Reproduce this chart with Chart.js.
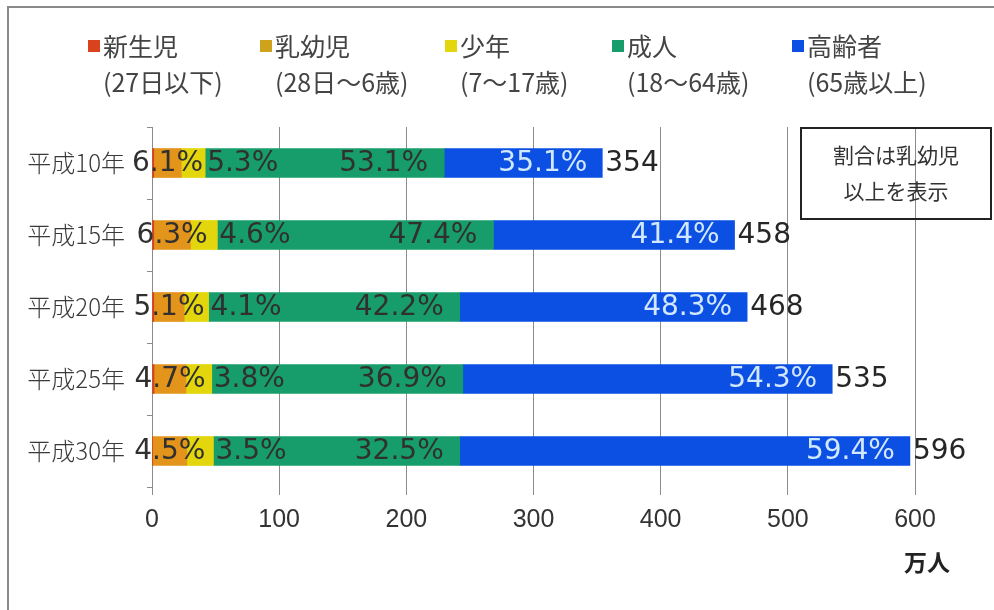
<!DOCTYPE html>
<html>
<head>
<meta charset="utf-8">
<script src="https://cdn.jsdelivr.net/npm/chart.js@4.4.0/dist/chart.umd.min.js"></script>
<style>
  html, body { margin: 0; padding: 0; background: #ffffff; }
  #wrap { width: 994px; height: 610px; position: relative; }
</style>
</head>
<body>
<div id="wrap"><canvas id="c" width="994" height="610"></canvas></div>
<script>
// ---- data ----
const categories = ['平成10年', '平成15年', '平成20年', '平成25年', '平成30年'];
const seriesNames = ['新生児', '乳幼児', '少年', '成人', '高齢者'];
const seriesAges = ['(27日以下)', '(28日～6歳)', '(7～17歳)', '(18～64歳)', '(65歳以上)'];
const neonatal = [1.4, 1.4, 1.4, 1.6, 0.6];
const infant = [21.6, 28.9, 23.9, 25.1, 26.8];
const youth = [18.8, 21.1, 19.2, 20.3, 20.9];
const adult = [188.0, 217.1, 197.5, 197.4, 193.7];
const elderly = [124.3, 189.6, 226.0, 290.5, 354.0];
const infantPct = ['6.1%', '6.3%', '5.1%', '4.7%', '4.5%'];
const youthPct = ['5.3%', '4.6%', '4.1%', '3.8%', '3.5%'];
const adultPct = ['53.1%', '47.4%', '42.2%', '36.9%', '32.5%'];
const elderlyPct = ['35.1%', '41.4%', '48.3%', '54.3%', '59.4%'];
const totals = ['354', '458', '468', '535', '596'];
const xTicks = [0, 100, 200, 300, 400, 500, 600];
const unitLabel = '万人';
const noteLines = ['割合は乳幼児', '以上を表示'];

// ---- styles ----
const colors = ['#d8431e', '#e3941a', '#e4d60c', '#179d6b', '#0b4fe3'];
const legendColors = ['#d8431e', '#cfa21c', '#e4d60c', '#179d6b', '#0b4fe3'];
const legendX = [88, 260, 445, 612, 792];
const labelFont = '28px "DejaVu Sans"';
const cjk = '"Noto Sans CJK JP"';

const pctArrays = [null, infantPct, youthPct, adultPct, elderlyPct];

const decorPlugin = {
  id: 'decor',
  beforeDraw(chart) {
    const ctx = chart.ctx;
    ctx.save();
    ctx.fillStyle = '#ffffff';
    ctx.fillRect(0, 0, chart.width, chart.height);
    ctx.restore();
  },
  afterDatasetsDraw(chart) {
    const ctx = chart.ctx;
    ctx.save();
    ctx.font = labelFont;
    ctx.textBaseline = 'middle';
    for (let d = 1; d < 5; d++) {
      const meta = chart.getDatasetMeta(d);
      meta.data.forEach((el, i) => {
        const txt = pctArrays[d][i];
        const y = el.y + 1;
        if (d === 1) {
          ctx.textAlign = 'center';
          ctx.fillStyle = '#303030';
          ctx.fillText(txt, (el.x + el.base) / 2, y);
        } else if (d === 2) {
          ctx.textAlign = 'left';
          ctx.fillStyle = '#303030';
          ctx.fillText(txt, el.x + 2, y);
        } else if (d === 3) {
          ctx.textAlign = 'right';
          ctx.fillStyle = '#303030';
          ctx.fillText(txt, el.x - 16, y);
        } else {
          ctx.textAlign = 'right';
          ctx.fillStyle = '#d2e8ff';
          ctx.fillText(txt, el.x - 15, y);
          ctx.textAlign = 'left';
          ctx.fillStyle = '#262626';
          ctx.fillText(totals[i], el.x + 3, y);
        }
      });
    }
    ctx.restore();
  },
  afterDraw(chart) {
    const ctx = chart.ctx;
    ctx.save();
    // frame
    ctx.strokeStyle = '#8a8a8a';
    ctx.lineWidth = 2;
    ctx.beginPath();
    ctx.moveTo(8, 610);
    ctx.lineTo(8, 7);
    ctx.lineTo(994, 7);
    ctx.stroke();
    // legend
    ctx.textBaseline = 'middle';
    ctx.textAlign = 'left';
    for (let k = 0; k < 5; k++) {
      const x = legendX[k];
      ctx.fillStyle = legendColors[k];
      ctx.fillRect(x, 40, 12, 12);
      ctx.fillStyle = '#444444';
      ctx.font = '25px ' + cjk;
      ctx.fillText(seriesNames[k], x + 15, 46);
      ctx.fillText(seriesAges[k], x + 15, 82);
    }
    // note box
    ctx.strokeStyle = '#222222';
    ctx.lineWidth = 2;
    ctx.strokeRect(801, 128, 190, 91);
    ctx.fillStyle = '#333333';
    ctx.font = '21px ' + cjk;
    ctx.textAlign = 'center';
    ctx.fillText(noteLines[0], 896, 155);
    ctx.fillText(noteLines[1], 896, 191);
    // unit
    ctx.font = 'bold 23px ' + cjk;
    ctx.fillStyle = '#222222';
    ctx.fillText(unitLabel, 927, 562);
    ctx.restore();
  }
};

const datasets = [neonatal, infant, youth, adult, elderly].map((vals, k) => ({
  label: seriesNames[k],
  data: vals,
  backgroundColor: colors[k],
  borderWidth: 0,
  barThickness: 29
}));

new Chart(document.getElementById('c').getContext('2d'), {
  type: 'bar',
  data: { labels: categories, datasets },
  options: {
    indexAxis: 'y',
    responsive: false,
    animation: false,
    devicePixelRatio: 1,
    layout: { padding: { top: 127, right: 79, left: 0, bottom: 0 } },
    plugins: { legend: { display: false }, tooltip: { enabled: false } },
    scales: {
      x: {
        stacked: true,
        min: 0,
        max: 600,
        afterBuildTicks: s => { s.ticks = xTicks.map(v => ({ value: v })); },
        afterFit: s => { s.height = 123; },
        border: { display: false },
        grid: { color: '#8c8c8c', lineWidth: 1, drawTicks: true, tickLength: 8, tickColor: '#8c8c8c' },
        ticks: { color: '#333333', font: { family: 'Liberation Sans', size: 25 }, padding: 10, maxRotation: 0 }
      },
      y: {
        stacked: true,
        afterFit: s => { s.width = 152; },
        border: { display: false },
        grid: { offset: true, drawOnChartArea: false, drawTicks: true, tickLength: 5, color: '#8c8c8c' },
        ticks: { color: '#3a3a3a', font: { family: 'Noto Sans CJK JP', size: 24, weight: 300 }, padding: 22 }
      }
    }
  },
  plugins: [decorPlugin]
});
</script>
</body>
</html>
